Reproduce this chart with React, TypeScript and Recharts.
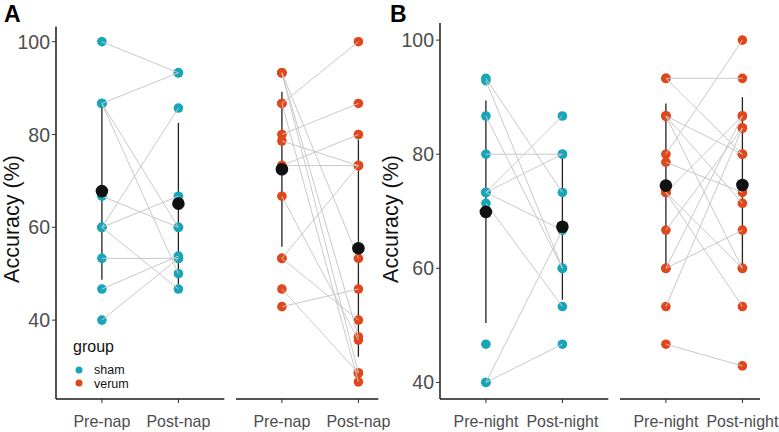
import React from "react";
import { ScatterChart, Scatter, XAxis, YAxis, ErrorBar } from "recharts";

// x = 1 is the session before, x = 2 the session after
const napLabels = ["Pre-nap", "Post-nap"];
const nightLabels = ["Pre-night", "Post-night"];
const accuracyTicks = [40, 60, 80, 100];

// panel A: nap
const napShamPre = [100, 86.7, 86.7, 86.7, 66.7, 60, 60, 60, 53.3, 46.7, 40];
const napShamPost = [93.3, 93.3, 60, 50, 60, 85.7, 66.7, 46.7, 53.3, 53.8, 53.3];
const napShamMean = [67.8, 65.1];
const napShamSd = [19.1, 17.4];

const napVerumPre = [86.7, 80, 73.3, 73.3, 78.6, 53.3, 53.3, 46.7, 42.9, 66.7, 93.3, 93.3, 86.7, 93.3];
const napVerumPost = [100, 86.7, 80, 73.3, 73.3, 73.3, 40, 28.6, 46.7, 35.7, 53.3, 36.4, 26.7, 28.6];
const napVerumMean = [72.5, 55.5];
const napVerumSd = [16.7, 23.4];

// panel B: night (one sham subject has no post-night value)
const nightShamPre = [93.3, 92.9, 86.7, 80, 73.3, 73.3, 73.3, 71.4, 40, 40, 46.7];
const nightShamPost = [73.3, 60, 60, 80, 86.7, 80, 66.7, 53.3, 66.7, 46.7, null];
const nightShamMean = [69.9, 67.3];
const nightShamSd = [19.5, 12.8];

const nightVerumPre = [93.3, 93.3, 86.7, 86.7, 86.7, 80, 78.6, 73.3, 73.3, 66.7, 60, 60, 53.3, 46.7, 73.3];
const nightVerumPost = [93.3, 80, 80, 71.4, 60, 100, 73.3, 86.7, 60, 84.6, 86.7, 66.7, 84.6, 42.9, 53.3];
const nightVerumMean = [74.5, 74.6];
const nightVerumSd = [14.4, 15.4];

const SHAM = "#17A5B8";
const VERUM = "#E0471B";
const FONT = "'Liberation Sans', Arial, Helvetica, sans-serif";
const PAD_R = 40; // room for the last tick label to spill past the axis line

type FacetProps = {
  pre: number[];
  post: (number | null)[];
  mean: number[];
  sd: number[];
  color: string;
  labels: string[];
  left: number;
  axisW: number;
  plotW: number;
  plotTop: number;
  plotH: number;
  xMax: number;
  yDomain: [number, number];
  showY: boolean;
};

function Facet(p: FacetProps) {
  const points = [
    ...p.pre.map((y) => ({ x: 1, y })),
    ...p.post.filter((v) => v != null).map((y) => ({ x: 2, y })),
  ];
  const pairs = p.pre
    .map((y, i) => (p.post[i] == null ? null : [{ x: 1, y }, { x: 2, y: p.post[i] }]))
    .filter(Boolean) as { x: number; y: number }[][];
  const means = p.mean.map((m, i) => ({ x: i + 1, y: m, err: p.sd[i] }));

  return (
    <div style={{ position: "absolute", left: p.left, top: 0 }}>
      <ScatterChart
        width={p.axisW + p.plotW + PAD_R}
        height={p.plotTop + p.plotH + 33}
        margin={{ top: p.plotTop, right: PAD_R, bottom: 0, left: 0 }}
      >
        <XAxis
          type="number"
          dataKey="x"
          domain={[0.4, p.xMax]}
          ticks={[1, 2]}
          height={33}
          axisLine={{ stroke: "#1a1a1a", strokeWidth: 1.5 }}
          tickLine={{ stroke: "#333" }}
          tickSize={4}
          tick={(t: any) => (
            <text x={t.x} y={t.y} dy={22} textAnchor="middle" fontSize={16} fill="#4d4d4d" fontFamily={FONT}>
              {p.labels[t.payload.value - 1]}
            </text>
          )}
        />
        <YAxis
          type="number"
          dataKey="y"
          domain={p.yDomain}
          ticks={accuracyTicks}
          width={p.axisW}
          hide={!p.showY}
          axisLine={{ stroke: "#1a1a1a", strokeWidth: 1.5 }}
          tickLine={{ stroke: "#333" }}
          tickSize={4}
          tick={(t: any) => (
            <text x={t.x} y={t.y} dy={7} textAnchor="end" fontSize={19.5} fill="#4d4d4d" fontFamily={FONT}>
              {t.payload.value}
            </text>
          )}
        />
        <Scatter
          data={points}
          isAnimationActive={false}
          shape={(s: any) => <circle cx={s.cx} cy={s.cy} r={4.8} fill={p.color} />}
        />
        {pairs.map((d, i) => (
          <Scatter
            key={i}
            data={d}
            isAnimationActive={false}
            line={{ stroke: "#c9c9c9", strokeWidth: 1 }}
            shape={() => <g />}
          />
        ))}
        <Scatter
          data={means}
          isAnimationActive={false}
          shape={(s: any) => <circle cx={s.cx} cy={s.cy} r={6.3} fill="#111" />}
        >
          <ErrorBar dataKey="err" direction="y" width={0} stroke="#222" strokeWidth={1.3} />
        </Scatter>
      </ScatterChart>
    </div>
  );
}

export default function App() {
  const aGeo = { plotTop: 26.4, plotH: 372.6, yDomain: [23, 103.3] as [number, number] };
  const bGeo = { plotTop: 23, plotH: 376, yDomain: [37.1, 103] as [number, number] };
  return (
    <div style={{ position: "absolute", left: 0, top: 0, width: 779, height: 432, overflow: "hidden", background: "#fff", fontFamily: FONT }}>
      <Facet pre={napShamPre} post={napShamPost} mean={napShamMean} sd={napShamSd} color={SHAM}
        labels={napLabels} left={0} axisW={56} plotW={168.3} xMax={2.6} showY {...aGeo} />
      <Facet pre={napVerumPre} post={napVerumPost} mean={napVerumMean} sd={napVerumSd} color={VERUM}
        labels={napLabels} left={236} axisW={0} plotW={142.3} xMax={2.26} showY={false} {...aGeo} />
      <Facet pre={nightShamPre} post={nightShamPost} mean={nightShamMean} sd={nightShamSd} color={SHAM}
        labels={nightLabels} left={384} axisW={56} plotW={168.3} xMax={2.6} showY {...bGeo} />
      <Facet pre={nightVerumPre} post={nightVerumPost} mean={nightVerumMean} sd={nightVerumSd} color={VERUM}
        labels={nightLabels} left={620} axisW={0} plotW={140} xMax={2.23} showY={false} {...bGeo} />

      <svg width={779} height={432} style={{ position: "absolute", left: 0, top: 0, pointerEvents: "none" }} fontFamily={FONT}>
        <text x={4} y={21.7} fontSize={23} fontWeight="bold" fill="#000">A</text>
        <text x={390} y={21.7} fontSize={23} fontWeight="bold" fill="#000">B</text>
        <text x={12} y={219} fontSize={21.5} fill="#111" textAnchor="middle" dominantBaseline="central"
          transform="rotate(-90 12 219)">Accuracy (%)</text>
        <text x={391} y={219} fontSize={21.5} fill="#111" textAnchor="middle" dominantBaseline="central"
          transform="rotate(-90 391 219)">Accuracy (%)</text>
        <text x={73} y={351.5} fontSize={16} fill="#111">group</text>
        <circle cx={79} cy={370} r={3.5} fill={SHAM} />
        <text x={94} y={374} fontSize={12.5} fill="#111">sham</text>
        <circle cx={79} cy={383} r={3.5} fill={VERUM} />
        <text x={94} y={387.5} fontSize={12.5} fill="#111">verum</text>
      </svg>
    </div>
  );
}
